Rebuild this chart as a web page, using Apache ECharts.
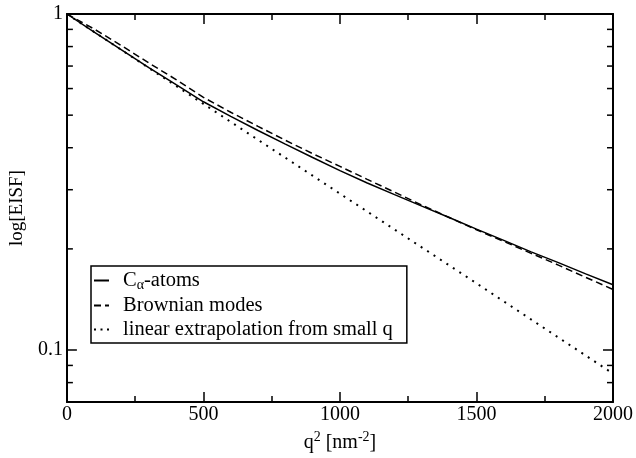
<!DOCTYPE html>
<html>
<head>
<meta charset="utf-8">
<script src="https://cdn.jsdelivr.net/npm/echarts@6/dist/echarts.min.js"></script>
<style>html,body{margin:0;padding:0;background:#fff}#c{width:636px;height:458px}</style>
</head>
<body>
<div id="c"></div>
<script>
// q^2 values [nm^-2]
var q2 = [0, 100, 200, 300, 400, 500, 600, 700, 800, 900, 1000, 1100, 1200, 1300, 1400, 1500, 1600, 1700, 1800, 1900, 2000];
// C-alpha atoms (solid)
var calpha = [1.000, 0.883, 0.782, 0.693, 0.616, 0.548, 0.496, 0.450, 0.410, 0.374, 0.342, 0.314, 0.290, 0.268, 0.248, 0.229, 0.212, 0.196, 0.182, 0.1685, 0.1564];
// Brownian modes (dashed)
var brownian = [1.000, 0.902, 0.805, 0.715, 0.638, 0.565, 0.510, 0.463, 0.421, 0.384, 0.352, 0.322, 0.295, 0.270, 0.248, 0.228, 0.2105, 0.194, 0.179, 0.1646, 0.1514];
// linear extrapolation from small q (dotted)
var extrapQ2 = [0, 500, 1000, 1500, 2000];
var extrap = [1.000, 0.540, 0.292, 0.158, 0.0851];

var xMin = 0, xMax = 2000, xStep = 500;
var yMin = 0.07, yMax = 1;
var yMajorLabels = [0.1, 1];
var yMinorTicks = [0.08, 0.09, 0.2, 0.3, 0.4, 0.5, 0.6, 0.7, 0.8, 0.9];

var FONT = 'Liberation Serif';
function pairs(xs, ys) { return xs.map(function (x, i) { return [x, ys[i]]; }); }

var chart = echarts.init(document.getElementById('c'), null, { renderer: 'canvas' });
var axisLineStyle = { color: '#000', width: 2 };
var tickStyle = { color: '#000', width: 1.5 };

var option = {
  animation: false,
  backgroundColor: '#fff',
  grid: { left: 60, right: 22, top: 14, bottom: 51, containLabel: false },
  legend: {
    data: [
      { name: 'Cα-atoms' },
      { name: 'Brownian modes' },
      { name: 'linear extrapolation from small q', lineStyle: { type: [2, 4.5] } }
    ],
    orient: 'vertical',
    left: 91, top: 266,
    itemWidth: 15, itemHeight: 10, itemGap: 3,
    padding: [3, 14, 3, 2],
    borderColor: '#000', borderWidth: 1.5, borderRadius: 0,
    backgroundColor: '#fff',
    selectedMode: false,
    itemStyle: { opacity: 0 },
    formatter: function (name) {
      if (name === 'Cα-atoms') return '{t|C}{sub|α}{t|-atoms}';
      return '{t|' + name + '}';
    },
    textStyle: {
      fontFamily: FONT, fontSize: 20.5, color: '#000', padding: [0, 0, 0, 9],
      rich: {
        t: { fontFamily: FONT, fontSize: 20.5, color: '#000', lineHeight: 21 },
        sub: { fontFamily: FONT, fontSize: 14, color: '#000', lineHeight: 13, padding: [9, 0, 0, 0] }
      }
    }
  },
  xAxis: [{
    type: 'value', position: 'bottom', min: xMin, max: xMax, interval: xStep,
    name: '{n|q}{s|2}{n| [nm}{s|-2}{n|]}', nameLocation: 'middle', nameGap: 19,
    nameTextStyle: {
      fontFamily: FONT, fontSize: 20, color: '#000',
      rich: {
        n: { fontFamily: FONT, fontSize: 20, color: '#000' },
        s: { fontFamily: FONT, fontSize: 14, color: '#000', padding: [0, 0, 12, 0] }
      }
    },
    axisLine: { show: true, onZero: false, lineStyle: axisLineStyle },
    axisTick: { show: true, inside: true, length: 10, lineStyle: tickStyle },
    minorTick: { show: true, splitNumber: 2, length: 6, lineStyle: tickStyle },
    axisLabel: { fontFamily: FONT, fontSize: 20, color: '#000', margin: 3, formatter: function (v) { return String(v); } },
    splitLine: { show: false }, minorSplitLine: { show: false }
  }, {
    type: 'value', position: 'top', min: xMin, max: xMax, interval: xStep,
    axisLine: { show: true, onZero: false, lineStyle: axisLineStyle },
    axisTick: { show: true, inside: true, length: 10, lineStyle: tickStyle },
    minorTick: { show: true, splitNumber: 2, length: 6, lineStyle: tickStyle },
    axisLabel: { show: false },
    splitLine: { show: false }, minorSplitLine: { show: false }
  }],
  yAxis: [{
    type: 'log', logBase: 10, position: 'left', min: yMin, max: yMax,
    name: 'log[EISF]', nameLocation: 'middle', nameGap: 34, nameRotate: 90,
    nameTextStyle: { fontFamily: FONT, fontSize: 19, color: '#000' },
    axisLine: { show: true, onZero: false, lineStyle: axisLineStyle },
    axisTick: { show: true, inside: true, length: 10, lineStyle: tickStyle },
    axisLabel: {
      fontFamily: FONT, fontSize: 20, color: '#000', margin: 4,
      showMinLabel: false,
      formatter: function (v) {
        for (var i = 0; i < yMajorLabels.length; i++) {
          if (Math.abs(v - yMajorLabels[i]) < 1e-9) return String(yMajorLabels[i]);
        }
        return '';
      }
    },
    splitLine: { show: false }
  }, {
    type: 'log', logBase: 10, position: 'right', min: yMin, max: yMax,
    axisLine: { show: true, onZero: false, lineStyle: axisLineStyle },
    axisTick: { show: true, inside: true, length: 10, lineStyle: tickStyle },
    axisLabel: { show: false },
    splitLine: { show: false }
  }],
  series: [{
    name: 'Cα-atoms', type: 'line', data: pairs(q2, calpha),
    symbol: 'none', smooth: false,
    lineStyle: { color: '#000', width: 1.5, type: 'solid' },
    itemStyle: { color: '#000' }
  }, {
    name: 'Brownian modes', type: 'line', data: pairs(q2, brownian),
    symbol: 'none', smooth: false,
    lineStyle: { color: '#000', width: 1.5, type: [7, 4] },
    itemStyle: { color: '#000' }
  }, {
    name: 'linear extrapolation from small q', type: 'line', data: pairs(extrapQ2, extrap),
    symbol: 'none', smooth: false,
    lineStyle: { color: '#000', width: 2, type: [2, 5.7] },
    itemStyle: { color: '#000' }
  }, {
    name: 'minorTicks', type: 'custom', silent: true, z: 5,
    data: yMinorTicks.map(function (v) { return [xMin, v]; }),
    renderItem: function (params, api) {
      var v = api.value(1);
      var l = api.coord([xMin, v]);
      var r = api.coord([xMax, v]);
      return {
        type: 'group', children: [
          { type: 'line', shape: { x1: l[0], y1: l[1], x2: l[0] + 6, y2: l[1] }, style: { stroke: '#000', lineWidth: 1.5 } },
          { type: 'line', shape: { x1: r[0], y1: r[1], x2: r[0] - 6, y2: r[1] }, style: { stroke: '#000', lineWidth: 1.5 } }
        ]
      };
    }
  }]
};
chart.setOption(option);
</script>
</body>
</html>
